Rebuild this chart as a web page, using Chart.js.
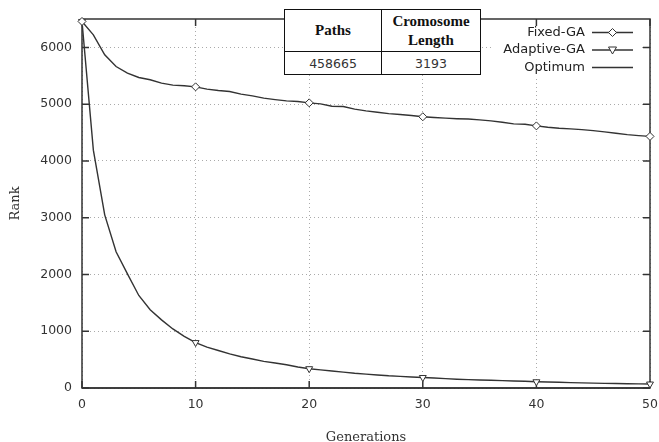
<!DOCTYPE html>
<html>
<head>
<meta charset="utf-8">
<script src="https://cdn.jsdelivr.net/npm/chart.js@4"></script>
<style>
  body { margin: 0; background: #fff; }
  #wrap { position: relative; width: 659px; height: 442px; }
  #info {
    position: absolute; left: 284px; top: 9px; width: 197px;
    border-collapse: collapse; table-layout: fixed; background: #fff;
  }
  #info td { border: 1.5px solid #111; padding: 0; text-align: center; vertical-align: middle; }
  #info .head { height: 41px; font: bold 15px 'Liberation Serif', serif; line-height: 19px; color: #111; }
  #info .val { height: 22px; font: 12.5px 'DejaVu Sans', sans-serif; color: #333; }
</style>
</head>
<body>
<div id="wrap">
  <canvas id="chart" width="659" height="442"></canvas>
  <table id="info">
    <tr><td class="head" style="width:96px">Paths</td><td class="head">Cromosome<br>Length</td></tr>
    <tr><td class="val">458665</td><td class="val">3193</td></tr>
  </table>
</div>
<script>
const generations = [0, 1, 2, 3, 4, 5, 6, 7, 8, 9, 10, 11, 12, 13, 14, 15, 16, 17, 18, 19, 20,
    21, 22, 23, 24, 25, 26, 27, 28, 29, 30, 31, 32, 33, 34, 35, 36, 37, 38, 39, 40,
    41, 42, 43, 44, 45, 46, 47, 48, 49, 50];

const fixedGA = [6457, 6222, 5870, 5663, 5547, 5470, 5429, 5370, 5335, 5323, 5305,
    5265, 5240, 5222, 5176, 5146, 5106, 5080, 5058, 5046, 5023,
    5005, 4964, 4958, 4912, 4882, 4858, 4834, 4817, 4799, 4778,
    4764, 4753, 4744, 4738, 4723, 4705, 4682, 4653, 4647, 4617,
    4594, 4576, 4564, 4552, 4534, 4511, 4488, 4464, 4446, 4432];

const adaptiveGA = [6457, 4190, 3050, 2400, 2010, 1630, 1380, 1200, 1040, 910, 800,
    720, 660, 600, 550, 510, 470, 440, 410, 370, 340,
    320, 300, 280, 260, 245, 230, 215, 205, 195, 185,
    175, 165, 155, 148, 142, 136, 130, 124, 118, 110,
    105, 100, 95, 90, 86, 82, 79, 76, 73, 70];

const optimumGenerations = [0, 50];
const optimumRank = [0, 0];

const xTicks = [0, 10, 20, 30, 40, 50];
const yTicks = [0, 1000, 2000, 3000, 4000, 5000, 6000];

const lineColor = '#333';
const tickFont = { family: 'DejaVu Sans', size: 12.5 };

function toPoints(xs, ys) {
    return ys.map((v, i) => ({ x: xs[i], y: v }));
}

// markers only every 10 generations, like gnuplot's pointinterval
function everyTenth(r) {
    return ctx => (ctx.raw && ctx.raw.x % 10 === 0) ? r : 0;
}

function drawMarker(ctx, style, x, y) {
    ctx.beginPath();
    if (style === 'diamond') {
        ctx.moveTo(x, y - 4); ctx.lineTo(x + 4, y); ctx.lineTo(x, y + 4); ctx.lineTo(x - 4, y);
    } else {
        ctx.moveTo(x - 4, y - 3); ctx.lineTo(x + 4, y - 3); ctx.lineTo(x, y + 4);
    }
    ctx.closePath();
    ctx.fillStyle = '#fff';
    ctx.fill();
    ctx.stroke();
}

// no extra room for the end tick labels, the frame sits at fixed pixels
function noLabelPadding(s) {
    s.paddingLeft = 0; s.paddingRight = 0;
    s.paddingTop = 0; s.paddingBottom = 0;
}

const gnuplotFrame = {
    id: 'gnuplotFrame',
    beforeDatasetsDraw(chart) {
        const { ctx, chartArea: a, scales: { x, y } } = chart;
        ctx.save();

        // key box (hides the grid behind it)
        ctx.fillStyle = '#fff';
        ctx.fillRect(493, 26, 147, 50);
        const rows = [
            { label: 'Fixed-GA', marker: 'diamond', y: 32.5 },
            { label: 'Adaptive-GA', marker: 'triangle', y: 50 },
            { label: 'Optimum', marker: null, y: 67.5 },
        ];
        ctx.font = "13px 'DejaVu Sans'";
        ctx.textAlign = 'right';
        ctx.textBaseline = 'middle';
        ctx.strokeStyle = lineColor;
        ctx.lineWidth = 1.4;
        rows.forEach(r => {
            ctx.fillStyle = '#222';
            ctx.fillText(r.label, 585, r.y);
            ctx.beginPath();
            ctx.moveTo(592, r.y);
            ctx.lineTo(633, r.y);
            ctx.stroke();
            if (r.marker) {
                ctx.lineWidth = 1;
                drawMarker(ctx, r.marker, 612.5, r.y);
                ctx.lineWidth = 1.4;
            }
        });

        // frame + inward ticks, mirrored
        ctx.strokeStyle = lineColor;
        ctx.lineWidth = 1.5;
        ctx.strokeRect(a.left, a.top, a.right - a.left, a.bottom - a.top);
        ctx.beginPath();
        xTicks.forEach(v => {
            const px = x.getPixelForValue(v);
            ctx.moveTo(px, a.bottom); ctx.lineTo(px, a.bottom - 7);
            ctx.moveTo(px, a.top); ctx.lineTo(px, a.top + 7);
        });
        yTicks.forEach(v => {
            const py = y.getPixelForValue(v);
            ctx.moveTo(a.left, py); ctx.lineTo(a.left + 7, py);
            ctx.moveTo(a.right, py); ctx.lineTo(a.right - 7, py);
        });
        ctx.stroke();
        ctx.restore();
    }
};

new Chart(document.getElementById('chart'), {
    type: 'line',
    data: {
        datasets: [
            {
                label: 'Fixed-GA',
                data: toPoints(generations, fixedGA),
                borderColor: lineColor,
                borderWidth: 1.4,
                pointStyle: 'rectRot',
                pointRadius: everyTenth(4),
                pointBorderWidth: 1,
                pointBorderColor: lineColor,
                pointBackgroundColor: '#fff',
                tension: 0,
            },
            {
                label: 'Adaptive-GA',
                data: toPoints(generations, adaptiveGA),
                borderColor: lineColor,
                borderWidth: 1.4,
                pointStyle: 'triangle',
                pointRotation: 180,
                pointRadius: everyTenth(4),
                pointBorderWidth: 1,
                pointBorderColor: lineColor,
                pointBackgroundColor: '#fff',
                tension: 0,
            },
            {
                label: 'Optimum',
                data: toPoints(optimumGenerations, optimumRank),
                borderColor: lineColor,
                borderWidth: 1.4,
                pointRadius: 0,
                tension: 0,
            },
        ],
    },
    options: {
        responsive: false,
        animation: false,
        devicePixelRatio: 1,
        clip: false,
        layout: { padding: { left: 0, right: 9, top: 19, bottom: 0 } },
        plugins: {
            legend: { display: false },
            tooltip: { enabled: false },
        },
        scales: {
            x: {
                type: 'linear',
                min: 0,
                max: 50,
                afterBuildTicks: s => { s.ticks = xTicks.map(v => ({ value: v })); },
                afterFit: s => { s.height = 54; noLabelPadding(s); },
                ticks: { font: tickFont, color: '#333', padding: 9, callback: v => String(v) },
                grid: { color: '#aaa', lineWidth: 1, drawTicks: false },
                border: { display: false, dash: [1, 3] },
                title: {
                    display: true,
                    text: 'Generations',
                    color: '#333',
                    font: { family: 'DejaVu Serif', size: 13, lineHeight: 1 },
                    padding: { top: 0, bottom: -2 },
                },
            },
            y: {
                min: 0,
                max: 6500,
                afterBuildTicks: s => { s.ticks = yTicks.map(v => ({ value: v })); },
                afterFit: s => { s.width = 82; noLabelPadding(s); },
                ticks: { font: tickFont, color: '#333', padding: 10, callback: v => String(v) },
                grid: { color: '#aaa', lineWidth: 1, drawTicks: false },
                border: { display: false, dash: [1, 3] },
                title: {
                    display: true,
                    text: 'Rank',
                    color: '#333',
                    font: { family: 'DejaVu Serif', size: 13, lineHeight: 1 },
                    padding: { top: 9.5, bottom: 0 },
                },
            },
        },
    },
    plugins: [gnuplotFrame],
});
</script>
</body>
</html>
